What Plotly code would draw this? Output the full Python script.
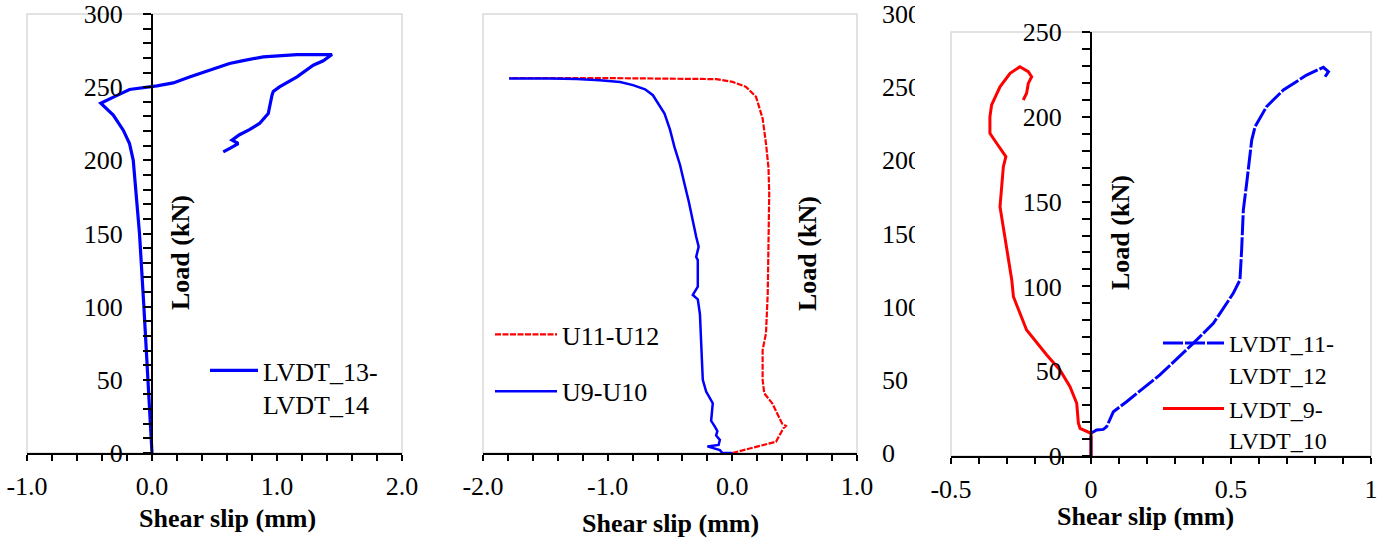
import plotly.graph_objects as go

W, H = 1394, 540
FONT = "Liberation Serif, Times New Roman, serif"
BLUE = "#0000FF"
RED = "#FF0000"

# ---------------- data ----------------
# Panel 1: LVDT_13-LVDT_14
p1_slip = [0.0, -0.03, -0.065, -0.10, -0.15, -0.18, -0.23, -0.31, -0.36, -0.41,
           -0.30, -0.18, 0.04, 0.17, 0.30, 0.49, 0.62, 0.72, 0.89, 1.16, 1.44,
           1.37, 1.29, 1.16, 1.02, 0.97, 0.96, 0.93, 0.89, 0.86, 0.78, 0.70,
           0.64, 0.69, 0.63, 0.57]
p1_load = [0, 50, 100, 150, 200, 211.5, 220.6, 230.9, 235, 239,
           243.5, 248.4, 250.9, 252.9, 257, 262.3, 266.2, 268, 270.7, 272.3, 272.3,
           268, 265, 257, 250.2, 247, 244.5, 232, 228, 225.2, 221, 217.5,
           213.8, 211.5, 208.5, 205.8]

# Panel 2: U11-U12 (red dashed) and U9-U10 (blue)
p2_u11_slip = [0.0, 0.35, 0.41, 0.43, 0.40, 0.32, 0.256, 0.243, 0.243, 0.27, 0.284,
               0.29, 0.296, 0.29, 0.27, 0.243, 0.19, 0.11, 0.003, -0.13, -0.53,
               -1.0, -1.79]
p2_u11_load = [0, 7.7, 17, 18.5, 20, 34, 40.8, 50, 70.4, 81.8, 109,
               154.6, 177.4, 195, 211.5, 228.6, 243.4, 250.2, 253.6, 255.5, 256,
               256.2, 256.2]
p2_u9_slip = [0.0, -0.08, -0.10, -0.20, -0.11, -0.10, -0.13, -0.12, -0.14, -0.17,
              -0.157, -0.21, -0.237, -0.25, -0.26, -0.277, -0.317, -0.277, -0.277,
              -0.29, -0.27, -0.29, -0.317, -0.35, -0.384, -0.42, -0.464, -0.50,
              -0.544, -0.60, -0.637, -0.70, -0.797, -0.90, -1.064, -1.25, -1.464,
              -1.79]
p2_u9_load = [0, 0, 2, 4.5, 5.5, 9, 12, 15, 18, 22,
              34, 42, 50, 75, 95, 105, 108, 113.6, 131.8,
              134, 141, 147.8, 159, 172, 184, 197, 209, 221,
              232, 240, 244.5, 248.5, 251.4, 253.5, 254.8, 255.6, 256,
              256]

# Panel 3: LVDT_11-LVDT_12 (blue dashed) and LVDT_9-LVDT_10 (red)
p3_l11_slip = [0.0, 0.0, 0.020, 0.044, 0.056, 0.080, 0.127, 0.246, 0.365, 0.437,
               0.508, 0.532, 0.538, 0.544, 0.556, 0.574, 0.586, 0.627, 0.687,
               0.770, 0.830, 0.848, 0.836]
p3_l11_load = [0, 13.4, 15.3, 15.7, 17.3, 26.1, 32.0, 47.8, 66.4, 78.2,
               95.9, 103.8, 121.5, 145, 160.8, 186.3, 194.2, 206, 215.8,
               224.6, 229.2, 226.6, 223.6]
p3_l9_slip = [0.0, 0.0, -0.039, -0.045, -0.051, -0.075, -0.111, -0.158, -0.230,
              -0.277, -0.283, -0.325, -0.313, -0.304, -0.337, -0.361, -0.361,
              -0.355, -0.325, -0.289, -0.254, -0.224, -0.212, -0.224, -0.230,
              -0.242]
p3_l9_load = [0, 13.4, 16.3, 19.3, 31.1, 40.9, 50.7, 59.6, 74.3,
              93.9, 103.8, 147, 170.6, 176.5, 184.4, 190.3, 200,
              207, 217.7, 225.6, 229.5, 226.6, 223.6, 219.7, 213.9,
              209.9]

# tick values / labels
p1_xticks = [-1.0, 0.0, 1.0, 2.0]
p1_xlabels = ["-1.0", "0.0", "1.0", "2.0"]
p2_xticks = [-2.0, -1.0, 0.0, 1.0]
p2_xlabels = ["-2.0", "-1.0", "0.0", "1.0"]
p3_xticks = [-0.5, 0.0, 0.5, 1.0]
p3_xlabels = ["-0.5", "0", "0.5", "1"]
load_ticks_300 = [0, 50, 100, 150, 200, 250, 300]
load_labels_300 = ["0", "50", "100", "150", "200", "250", "300"]
load_ticks_250 = [0, 50, 100, 150, 200, 250]
load_labels_250 = ["0", "50", "100", "150", "200", "250"]


def fx(p):
    return p / W


def fy(p):
    return 1 - p / H


panels = [
    dict(xr=[-1, 2], yr=[0, 300], left=27, right=402, top=14, bottom=453,
         xminor=0.2, yminor=10, xt=p1_xticks, xl=p1_xlabels,
         yt=load_ticks_300, yl=load_labels_300, right_labels=False),
    dict(xr=[-2, 1], yr=[0, 300], left=483, right=857, top=14, bottom=453,
         xminor=0.2, yminor=10, xt=p2_xticks, xl=p2_xlabels,
         yt=load_ticks_300, yl=load_labels_300, right_labels=True),
    dict(xr=[-0.5, 1], yr=[0, 250], left=951, right=1371, top=32, bottom=456,
         xminor=0.1, yminor=10, xt=p3_xticks, xl=p3_xlabels,
         yt=load_ticks_250, yl=load_labels_250, right_labels=False),
]

tickfont = dict(family=FONT, size=26, color="black")
layout = dict(
    template="none",
    width=W, height=H, margin=dict(l=0, r=0, t=0, b=0, autoexpand=False),
    paper_bgcolor="white", plot_bgcolor="white",
    font=dict(family=FONT, size=26, color="black"),
    showlegend=True,
)
shapes = []
tick_common = dict(tickwidth=2, tickcolor="black", showgrid=False, zeroline=False,
                   automargin=False, ticklabeloverflow="allow")
for i, p in enumerate(panels, start=1):
    sx = "" if i == 1 else str(i)
    xa, ya = "xaxis" + sx, "yaxis" + sx
    xref, yref = "x" + sx, "y" + sx
    y_at_zero = p["left"] + (0 - p["xr"][0]) / (p["xr"][1] - p["xr"][0]) * (p["right"] - p["left"])
    pos = fx(y_at_zero)
    layout[xa] = dict(
        domain=[fx(p["left"]), fx(p["right"])], range=p["xr"], anchor=yref,
        showline=True, linecolor="black", linewidth=2,
        ticks="outside", ticklen=6,
        tickmode="array", tickvals=p["xt"], ticktext=p["xl"],
        minor=dict(ticks="outside", ticklen=6, tickwidth=2, tickcolor="black",
                   tickmode="linear", tick0=p["xr"][0], dtick=p["xminor"]),
        tickfont=tickfont, ticklabelstandoff=3, **tick_common,
    )
    axis_line = dict(
        anchor="free", position=pos, side="left", range=p["yr"],
        showline=True, linecolor="black", linewidth=2,
        ticks="outside", ticklen=8,
        tickmode="array", tickvals=p["yt"], ticktext=p["yl"],
        minor=dict(ticks="outside", ticklen=8, tickwidth=2, tickcolor="black",
                   tickmode="linear", tick0=0, dtick=p["yminor"]),
        tickfont=tickfont, ticklabelstandoff=15, **tick_common,
    )
    if not p["right_labels"]:
        layout[ya] = dict(domain=[fy(p["bottom"]), fy(p["top"])], **axis_line)
    else:
        # primary axis carries the labels at the right edge of the plot area
        layout[ya] = dict(
            domain=[fy(p["bottom"]), fy(p["top"])], range=p["yr"], anchor=xref,
            side="right", showline=False, ticks="",
            tickmode="array", tickvals=p["yt"], ticktext=p["yl"],
            tickfont=tickfont, ticklabelstandoff=24,
            showgrid=False, zeroline=False, automargin=False,
            ticklabeloverflow="allow",
        )
        layout["yaxis8"] = dict(overlaying=yref, showticklabels=False, **axis_line)
    # inner half of the crossing major ticks
    layout["xaxis" + str(i + 3)] = dict(
        overlaying=xref, anchor=yref, range=p["xr"],
        ticks="inside", ticklen=6,
        tickmode="array", tickvals=p["xt"], showticklabels=False,
        showline=False, **tick_common,
    )
    layout["yaxis" + str(i + 3)] = dict(
        overlaying=yref, anchor="free", position=pos, side="left", range=p["yr"],
        ticks="inside", ticklen=8,
        tickmode="array", tickvals=p["yt"], showticklabels=False,
        showline=False, **tick_common,
    )
    shapes.append(dict(type="rect", xref=xref + " domain", yref=yref + " domain",
                       x0=0, x1=1, y0=0, y1=1, layer="below",
                       line=dict(color="#d9d9d9", width=1.5)))

# the third panel covers the right end of the middle panel's load labels
shapes.append(dict(type="rect", xref="paper", yref="paper",
                   x0=fx(915), x1=fx(949), y0=fy(470), y1=1, layer="above",
                   fillcolor="white", line=dict(width=0)))
layout["shapes"] = shapes

# legends
legfont = dict(family=FONT, size=26, color="black")
layout["legend"] = dict(x=fx(205), y=fy(347), xanchor="left", yanchor="top",
                        bgcolor="rgba(0,0,0,0)", font=legfont, valign="top",
                        itemwidth=48)
layout["legend2"] = dict(x=fx(490), y=fy(311), xanchor="left", yanchor="top",
                         bgcolor="rgba(0,0,0,0)", font=legfont, valign="top",
                         tracegroupgap=20, itemwidth=62)
layout["legend3"] = dict(x=fx(1158), y=fy(321), xanchor="left", yanchor="top",
                         bgcolor="rgba(0,0,0,0)",
                         font=dict(family=FONT, size=24, color="black"),
                         valign="top", tracegroupgap=0, itemwidth=61)

# axis titles as annotations
ann = []
ytitle_pos = [(180, 253), (807, 253), (1120, 233)]
xtitle_pos = [(227, 518), (670, 523), (1145, 516)]
for (ax_, ay_), (bx_, by_) in zip(ytitle_pos, xtitle_pos):
    ann.append(dict(text="<b>Load (kN)</b>", x=fx(ax_), y=fy(ay_), xref="paper",
                    yref="paper", showarrow=False, textangle=-90,
                    font=dict(family=FONT, size=26, color="black"),
                    xanchor="center", yanchor="middle"))
    ann.append(dict(text="<b>Shear slip (mm)</b>", x=fx(bx_), y=fy(by_), xref="paper",
                    yref="paper", showarrow=False,
                    font=dict(family=FONT, size=26, color="black"),
                    xanchor="center", yanchor="middle"))
layout["annotations"] = ann

fig = go.Figure(layout=layout)

fig.add_trace(go.Scatter(x=p1_slip, y=p1_load, xaxis="x", yaxis="y", mode="lines",
                         name="LVDT_13-<br>LVDT_14", legend="legend",
                         line=dict(color=BLUE, width=3.2)))

fig.add_trace(go.Scatter(x=p2_u11_slip, y=p2_u11_load, xaxis="x2", yaxis="y2",
                         mode="lines", name="U11-U12", legend="legend2",
                         legendgroup="a",
                         line=dict(color=RED, width=2.2, dash="6px,1.5px")))
fig.add_trace(go.Scatter(x=p2_u9_slip, y=p2_u9_load, xaxis="x2", yaxis="y2",
                         mode="lines", name="U9-U10", legend="legend2",
                         legendgroup="b",
                         line=dict(color=BLUE, width=2.5)))

fig.add_trace(go.Scatter(x=p3_l11_slip, y=p3_l11_load, xaxis="x3", yaxis="y3",
                         mode="lines", name="LVDT_11-<br>LVDT_12", legend="legend3",
                         line=dict(color=BLUE, width=3, dash="20px,2px")))
fig.add_trace(go.Scatter(x=p3_l9_slip, y=p3_l9_load, xaxis="x3", yaxis="y3",
                         mode="lines", name="LVDT_9-<br>LVDT_10", legend="legend3",
                         line=dict(color=RED, width=3)))

# the page's default 8 px body margin would push the 1394x540 figure out of the window
fig.write_html("out.html", config={"displayModeBar": False},
               post_script="document.body.style.margin = '0px';")
